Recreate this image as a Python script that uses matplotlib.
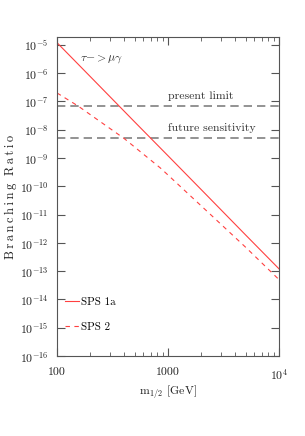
import numpy as np
import matplotlib; matplotlib.use("Agg")
import matplotlib.pyplot as plt

plt.rcParams["font.family"] = ["cmr10", "DejaVu Serif"]
plt.rcParams["mathtext.fontset"] = "cm"
plt.rcParams["axes.formatter.use_mathtext"] = True

# readings from the picture
m_sps1a = [100, 200, 500, 1000, 2000, 5000, 10000]
br_sps1a = [1.2e-5, 7.5e-7, 1.9e-8, 1.2e-9, 7.5e-11, 1.9e-12, 1.2e-13]
m_sps2 = [100, 155, 200, 400, 850, 1000, 1860, 2000, 5000, 10000]
br_sps2 = [2.0e-7, 6.9e-8, 3.4e-8, 5.0e-9, 4.5e-10, 2.5e-10, 2.6e-11, 2.0e-11, 7.0e-13, 5.0e-14]
present_limit = 6.8e-8
future_sens = 5.0e-9

fig = plt.figure(figsize=(3.05, 4.36), dpi=100)
ax = fig.add_axes([0.187, 0.1835, 0.728, 0.7315])
ax.set_xscale("log"); ax.set_yscale("log")
ax.set_xlim(100, 1e4); ax.set_ylim(1e-16, 1.9e-5)

ax.axhline(present_limit, color="#808080", ls=(0, (5, 3)), lw=1.2)
ax.axhline(future_sens, color="#808080", ls=(0, (5, 3)), lw=1.2)
ax.plot(m_sps1a, br_sps1a, color="#ff4040", lw=0.8, label="SPS 1a")
ax.plot(m_sps2, br_sps2, color="#ff4040", lw=0.8, ls=(0, (4, 4)), label="SPS 2")

ax.text(1000, 1.0e-7, "present limit", fontsize=8.5, color="#333333", va="bottom")
ax.text(1000, 7.5e-9, "future sensitivity", fontsize=8.5, color="#333333", va="bottom")
ax.text(160, 3.2e-6, r"$\tau\mathrm{-}>\mu\gamma$", fontsize=8.5, color="#333333", va="center")

ax.set_xticks([100, 1000, 10000])
ax.set_xticklabels(["100", "1000", r"$10^4$"])
ax.set_yticks([10.0**k for k in range(-16, -4)])
ax.set_yticklabels([r"$10^{%d}$" % k for k in range(-16, -4)])
ax.tick_params(which="both", direction="in", top=True, right=True, colors="#555555", labelcolor="#222222")
ax.tick_params(which="major", length=6, labelsize=8.5, pad=6)
ax.tick_params(which="minor", length=3)
ax.tick_params(axis="x", which="major", pad=8)
for s in ax.spines.values():
    s.set_color("#555555"); s.set_linewidth(0.8)

ax.set_xlabel(r"m$_{1/2}$ [GeV]", fontsize=8.5, color="#222222", labelpad=1)
ylab = "\u2009".join("Branching") + "\u2009\u2009\u2009" + "\u2009".join("Ratio")
ax.set_ylabel(ylab, fontsize=9, color="#222222")
ax.yaxis.set_label_coords(-0.18, 0.5)

leg = ax.legend(loc="lower left", bbox_to_anchor=(0.0, 0.05), frameon=False, fontsize=8,
                handlelength=1.3, handletextpad=0.2, labelspacing=1.4, borderaxespad=0.3)

plt.savefig("out.png", dpi=100)
